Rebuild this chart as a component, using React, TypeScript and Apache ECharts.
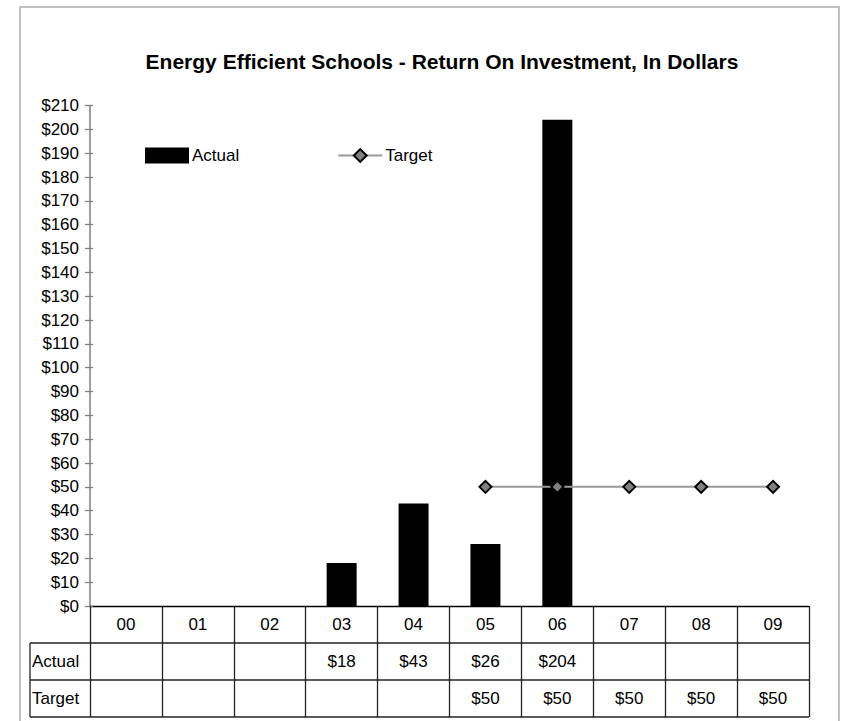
import React, { useEffect, useRef } from "react";
import * as echarts from "echarts";

const categories = ["00", "01", "02", "03", "04", "05", "06", "07", "08", "09"];
const actualValues: (number | null)[] = [null, null, null, 18, 43, 26, 204, null, null, null];
const targetValues: (number | null)[] = [null, null, null, null, null, 50, 50, 50, 50, 50];
const rowLabels = ["Actual", "Target"];
const titleText = "Energy Efficient Schools - Return On Investment, In Dollars";

const W = 842;
const H = 721;
const GRID_LEFT = 90;
const GRID_RIGHT = 809;
const GRID_TOP = 105.5;
const GRID_BOTTOM = 606;
const ROW_H = 37;
const TABLE_LEFT = 30;
const FONT = "'Liberation Sans', Arial, sans-serif";
const FS = 17;

const money = (v: number | null) => (v == null ? "" : "$" + v);

export default function App() {
  const ref = useRef<HTMLDivElement>(null);
  useEffect(() => {
    if (!ref.current) return;
    const chart = echarts.init(ref.current, undefined, { renderer: "svg" });
    const baseX = {
      type: "category" as const,
      data: categories,
      gridIndex: 0,
      position: "bottom" as const,
      boundaryGap: true,
      axisLine: { show: false },
      axisTick: { show: false },
      splitLine: { show: false },
    };
    const labelStyle = {
      color: "#000",
      fontFamily: FONT,
      fontSize: FS,
      verticalAlign: "middle" as const,
      margin: ROW_H / 2,
      interval: 0,
    };
    const hLines = [1, 2, 3].map((k) => ({
      type: "line",
      silent: true,
      shape: {
        x1: TABLE_LEFT,
        y1: GRID_BOTTOM + k * ROW_H,
        x2: GRID_RIGHT,
        y2: GRID_BOTTOM + k * ROW_H,
      },
      style: { stroke: "#222", lineWidth: 1.3 },
      z: 10,
    }));
    const rowTexts = rowLabels.map((t, i) => ({
      type: "text",
      silent: true,
      x: TABLE_LEFT + 2,
      y: GRID_BOTTOM + (i + 1.5) * ROW_H,
      style: {
        text: t,
        font: `${FS}px ${FONT}`,
        fill: "#000",
        textAlign: "left",
        textVerticalAlign: "middle",
      },
      z: 10,
    }));
    chart.setOption({
      animation: false,
      backgroundColor: "#fff",
      title: { show: false },
      legend: {
        left: 140,
        top: 142,
        itemWidth: 44,
        itemHeight: 16,
        itemGap: 98,
        textStyle: { color: "#000", fontFamily: FONT, fontSize: FS, padding: [0, 0, 0, -2] },
        data: [{ name: "Actual", icon: "rect" }, { name: "Target" }],
      },
      grid: {
        left: GRID_LEFT,
        right: W - GRID_RIGHT,
        top: GRID_TOP,
        bottom: H - GRID_BOTTOM,
        containLabel: false,
        outerBoundsMode: "none",
      },
      xAxis: [
        {
          ...baseX,
          axisLine: { show: true, onZero: false, lineStyle: { color: "#000", width: 1.3 } },
          axisTick: {
            show: true,
            interval: 0,
            inside: false,
            length: ROW_H * 3,
            lineStyle: { color: "#222", width: 1.3 },
          },
          axisLabel: { ...labelStyle },
        },
        {
          ...baseX,
          offset: ROW_H,
          axisLabel: { ...labelStyle, formatter: (_v: string, i: number) => money(actualValues[i]) },
        },
        {
          ...baseX,
          offset: ROW_H * 2,
          axisLabel: { ...labelStyle, formatter: (_v: string, i: number) => money(targetValues[i]) },
        },
      ],
      yAxis: [
        {
          type: "value",
          min: 0,
          max: 210,
          interval: 10,
          axisLine: { show: true, lineStyle: { color: "#808080", width: 1.5 } },
          axisTick: { show: true, inside: false, length: 5, lineStyle: { color: "#808080", width: 1.3 } },
          axisLabel: {
            color: "#000",
            fontFamily: FONT,
            fontSize: FS,
            margin: 11,
            formatter: (v: number) => "$" + v,
          },
          splitLine: { show: false },
        },
        {
          type: "value",
          position: "left",
          min: 0,
          max: 210,
          interval: 10,
          axisLine: { show: false },
          axisTick: { show: true, inside: true, length: 3, lineStyle: { color: "#808080", width: 1.3 } },
          axisLabel: { show: false },
          splitLine: { show: false },
        },
      ],
      series: [
        {
          name: "Actual",
          type: "bar",
          data: actualValues,
          barWidth: 30,
          itemStyle: { color: "#000" },
        },
        {
          name: "Target",
          type: "line",
          data: targetValues,
          symbol: "diamond",
          symbolSize: 12,
          lineStyle: { color: "#999", width: 2 },
          itemStyle: { color: "#808080", borderColor: "#000", borderWidth: 2 },
          z: 5,
        },
      ],
      graphic: [
        {
          type: "rect",
          silent: true,
          shape: { x: 20, y: 7, width: 819, height: 740 },
          style: { fill: "none", stroke: "#c0c0c0", lineWidth: 2 },
          z: 0,
        },
        {
          type: "text",
          silent: true,
          x: 442,
          y: 61,
          style: {
            text: titleText,
            font: `bold 21px ${FONT}`,
            fill: "#000",
            textAlign: "center",
            textVerticalAlign: "middle",
          },
        },
        {
          type: "line",
          silent: true,
          shape: { x1: TABLE_LEFT, y1: GRID_BOTTOM + ROW_H, x2: TABLE_LEFT, y2: GRID_BOTTOM + 3 * ROW_H },
          style: { stroke: "#222", lineWidth: 1.3 },
          z: 10,
        },
        ...hLines,
        ...rowTexts,
      ],
    });
    return () => chart.dispose();
  }, []);
  return (
    <div
      ref={ref}
      style={{ position: "fixed", left: 0, top: 0, width: W, height: H, background: "#fff" }}
    />
  );
}
